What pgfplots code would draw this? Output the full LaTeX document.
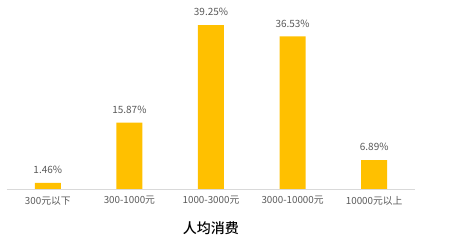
\documentclass[border=0pt]{standalone}
\usepackage{pgfplots}
\pgfplotsset{compat=1.18}
\usepackage{fontspec}
\setmainfont{Noto Sans CJK SC}
\newfontfamily\cjkmed{Noto Sans CJK SC Medium}
\definecolor{barcol}{HTML}{FFC000}
\definecolor{txtgray}{HTML}{595959}
\definecolor{axgray}{HTML}{D9D9D9}
\begin{document}
\begin{tikzpicture}[x=1pt,y=1pt]
\path (0,0) rectangle (458,245);
\begin{axis}[
  at={(7pt,56pt)}, anchor=south west,
  scale only axis, width=408pt, height=188pt,
  xmin=-0.5, xmax=4.5, ymin=0, ymax=45,
  axis y line=none, axis x line*=bottom,
  x axis line style={axgray, line width=0.8pt, -},
  xtick=data, major tick length=0pt,
  xticklabels={300元以下,300-1000元,1000-3000元,3000-10000元,10000元以上},
  xticklabel style={font=\fontsize{9.8}{11}\selectfont, text=txtgray, inner sep=0pt, yshift=-7pt},
  xlabel={人均消费},
  xlabel style={font=\cjkmed\fontsize{14}{16}\selectfont, text=black, at={(axis description cs:0.5,0)}, anchor=center, yshift=-39pt},
  ybar, bar width=26pt,
  clip=false,
  nodes near coords={\pgfmathprintnumber[fixed,precision=2,fixed zerofill]{\pgfplotspointmeta}\%},
  nodes near coords style={font=\fontsize{10}{12}\selectfont, text=txtgray, anchor=center, yshift=13pt, /pgf/number format/assume math mode=true},
]
\addplot[fill=barcol, draw=none] coordinates {(0,1.46) (1,15.87) (2,39.25) (3,36.53) (4,6.89)};
\end{axis}
\end{tikzpicture}
\end{document}
